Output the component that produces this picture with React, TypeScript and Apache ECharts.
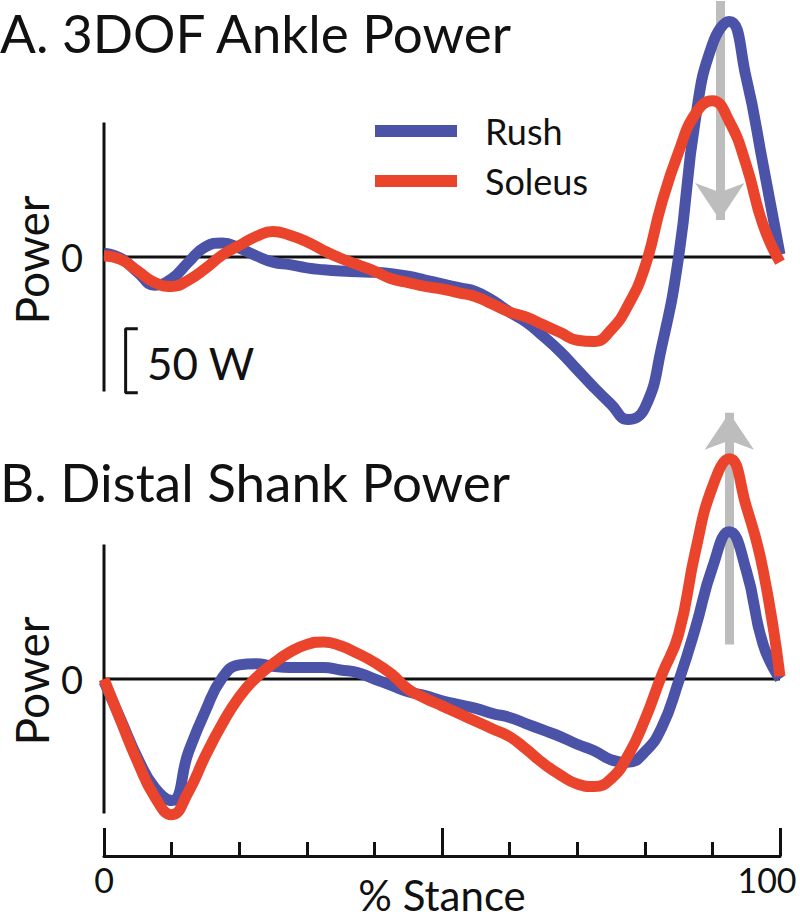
import React, { useEffect, useRef } from "react";
import * as echarts from "echarts";

// % stance sample positions
const stance = [0, 2.5, 5, 7.5, 10, 12.5, 15, 17.5, 20, 22.5, 25, 27.5, 30, 32.5, 35, 37.5, 40, 42.5, 45, 47.5, 50, 52.5, 55, 57.5, 60, 62.5, 65, 67.5, 70, 72.5, 75, 77.5, 80, 82.5, 85, 87.5, 90, 92.5, 95, 97.5, 100];

// Panel A: 3DOF Ankle Power (W)
const rushA = [3, -1, -12, -22, -17, -4, 8, 11, 7, 1, -4, -6, -8.5, -10, -11, -11.5, -12, -13, -15, -18, -21, -24, -27, -34, -43, -51, -62, -74, -88, -102, -115, -127, -118, -70, 0, 108, 166, 184, 140, 72, 2];
const soleusA = [1, -2, -11, -20, -23, -18, -9, 1.5, 9, 16, 20, 17, 12, 5, -1, -6, -11, -17, -20, -23, -25, -28, -31, -37, -43, -47, -53, -59, -65, -66, -57, -38, -8, 42, 82, 112, 122, 106, 72, 25, -4];

// Panel B: Distal Shank Power (W)
const rushB = [-2, -32, -62, -85, -95, -57, -25, 1, 11, 12, 10, 9, 9, 9, 7, 5, 0, -5, -10, -13, -17, -20, -23, -27, -30, -35, -40, -45, -51, -56, -63, -65, -57, -38, -2, 40, 87, 115, 85, 27, 0];
const soleusB = [0, -33, -65, -92, -106, -88, -60, -35, -14, 1, 12, 21, 27, 29, 26, 20, 13, 4, -8, -15, -21, -27, -33, -39, -45, -55, -66, -75, -82, -84, -78, -60, -32, 3, 35, 100, 150, 172, 135, 85, 2];

const xTickLabels = ["0", "100"];
const seriesNames = ["Rush", "Soleus"];

// reference decorations in data space
const zeroLine = [[0, 0], [100, 0]];
const powerAxisSpan = [[0, -105], [0, 105]];
const scaleBar50W = [[5, -56], [3.2, -56], [3.2, -106], [5, -106]];
const arrowA = { x: 91.1, from: 200, to: 29 };
const arrowB = { x: 92.5, from: 27, to: 208 };

const BLUE = "#4b53a8";
const RED = "#ea452c";
const INK = "#111111";
const GREY = "#bdbdbd";
const FONT = "Lato";

export default function App() {
  const ref = useRef<HTMLDivElement>(null);

  useEffect(() => {
    document.body.style.margin = "0";
    if (!ref.current) return;
    const chart = echarts.init(ref.current, null, { renderer: "svg" });

    const pts = (vals: number[]) => stance.map((x, i) => [x, vals[i]]);

    const helper = (data: number[][], gi: number, extra: any = {}) => ({
      type: "line",
      xAxisIndex: gi,
      yAxisIndex: gi,
      data,
      symbol: "none",
      silent: true,
      z: 1,
      lineStyle: { color: INK, width: 3 },
      ...extra,
    });

    const arrowMark = (a: { x: number; from: number; to: number }) => ({
      silent: true,
      z: 4,
      symbol: ["none", "arrow"],
      symbolSize: 37,
      label: { show: false },
      lineStyle: { color: GREY, width: 9, type: "solid" },
      data: [[{ coord: [a.x, a.from] }, { coord: [a.x, a.to] }]],
    });

    const yAxisCommon = (gi: number, max: number) => ({
      gridIndex: gi,
      type: "value",
      min: -150,
      max,
      interval: 50,
      axisLine: { show: false, onZero: false },
      axisTick: { show: false },
      splitLine: { show: false },
      axisLabel: {
        formatter: (v: number) => (v === 0 ? "0" : ""),
        margin: 21,
        fontSize: 38,
        fontFamily: FONT,
        color: INK,
      },
    });

    const curve = (name: string, vals: number[], gi: number, color: string, z: number) => ({
      type: "line",
      name,
      xAxisIndex: gi,
      yAxisIndex: gi,
      data: pts(vals),
      smooth: 0.5,
      symbol: "none",
      lineStyle: { color, width: 11 },
      itemStyle: { color },
      z,
    });

    const option: any = {
      animation: false,
      grid: [
        { left: 104, width: 676, top: 1, height: 448, outerBoundsMode: "none", containLabel: false },
        { left: 104, width: 676, top: 410.2, height: 460.8, outerBoundsMode: "none", containLabel: false },
      ],
      xAxis: [
        { gridIndex: 0, type: "value", min: 0, max: 100, show: false },
        {
          gridIndex: 1,
          type: "value",
          min: 0,
          max: 100,
          interval: 50,
          offset: -15,
          axisLine: { onZero: false, lineStyle: { color: INK, width: 3 } },
          axisTick: { inside: true, length: 28, lineStyle: { color: INK, width: 3 } },
          minorTick: { show: true, splitNumber: 5, length: 14, lineStyle: { color: INK, width: 3 } },
          splitLine: { show: false },
          axisLabel: {
            margin: 6,
            fontSize: 34,
            fontFamily: FONT,
            color: INK,
            formatter: (v: number) =>
              v === 0 ? xTickLabels[0] : v === 100 ? "{e|" + xTickLabels[1] + "}" : "",
            rich: { e: { fontSize: 34, fontFamily: FONT, color: INK, padding: [0, 26, 0, 0] } },
          },
          name: "% Stance",
          nameLocation: "middle",
          nameGap: 18,
          nameMoveOverlap: false,
          nameTextStyle: { fontFamily: FONT, fontSize: 42, lineHeight: 42, color: INK },
        },
      ],
      yAxis: [yAxisCommon(0, 200), yAxisCommon(1, 210)],
      legend: {
        data: seriesNames,
        orient: "vertical",
        left: 375,
        top: 106,
        padding: 0,
        itemWidth: 82,
        itemHeight: 12,
        itemGap: 0,
        icon: "rect",
        selectedMode: false,
        textStyle: { fontFamily: FONT, fontSize: 36, color: INK, lineHeight: 50, padding: [0, 0, 0, 23] },
      },
      graphic: [
        { type: "text", x: 0, y: 32, style: { text: "A. 3DOF Ankle Power", font: `53px ${FONT}`, lineHeight: 53, fill: INK, align: "left", verticalAlign: "middle" } },
        { type: "text", x: 0, y: 481, style: { text: "B. Distal Shank Power", font: `53px ${FONT}`, lineHeight: 53, fill: INK, align: "left", verticalAlign: "middle" } },
        { type: "text", x: 31, y: 260, rotation: Math.PI / 2, style: { text: "Power", font: `46px ${FONT}`, fill: INK, align: "center", verticalAlign: "middle" } },
        { type: "text", x: 31, y: 681, rotation: Math.PI / 2, style: { text: "Power", font: `46px ${FONT}`, fill: INK, align: "center", verticalAlign: "middle" } },
        { type: "text", x: 147, y: 363, style: { text: "50 W", font: `44px ${FONT}`, fill: INK, align: "left", verticalAlign: "middle" } },
      ],
      series: [
        helper(zeroLine, 0, { markLine: arrowMark(arrowA) }),
        helper(powerAxisSpan, 0),
        helper(scaleBar50W, 0),
        helper(zeroLine, 1, { markLine: arrowMark(arrowB) }),
        helper(powerAxisSpan, 1),
        curve("Rush", rushA, 0, BLUE, 10),
        curve("Soleus", soleusA, 0, RED, 11),
        curve("Rush", rushB, 1, BLUE, 10),
        curve("Soleus", soleusB, 1, RED, 11),
      ],
    };

    chart.setOption(option);
    return () => chart.dispose();
  }, []);

  return <div ref={ref} style={{ width: 800, height: 922 }} />;
}
